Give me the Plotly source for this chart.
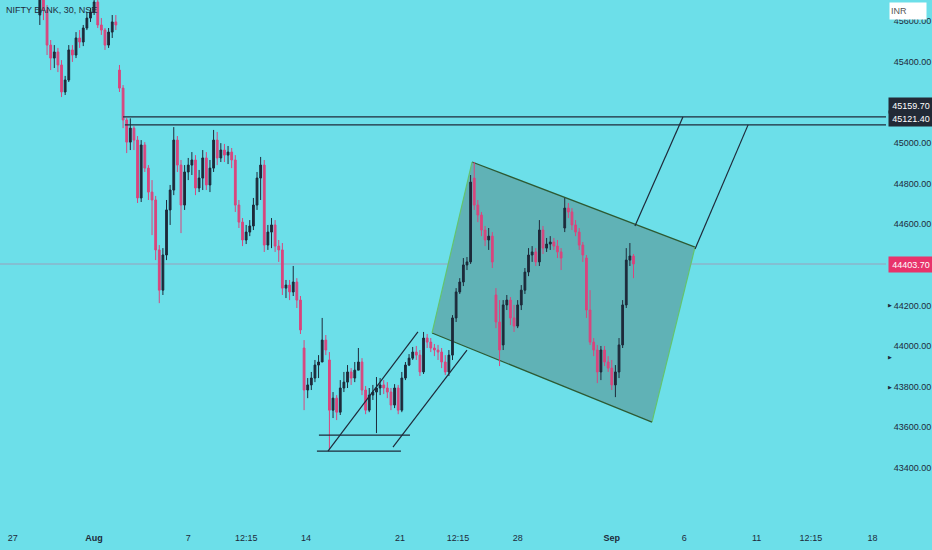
import plotly.graph_objects as go

# NIFTY BANK 30m candles, one entry per plotted candle
opens = [45630, 45729, 45655, 45482, 45418, 45448, 45384, 45251, 45310, 45458, 45433, 45517, 45497, 45566, 45615, 45645, 45694, 45581, 45556, 45482, 45546, 45596,
         45359, 45270, 45113, 45004, 45073, 45014, 44729, 44990, 44876, 44758, 44719, 44473, 44275, 44448, 44670, 44768, 45014, 44891, 44694, 44857, 44891, 44916,
         44778, 44827, 44926, 44793, 44876, 45014, 44926, 44965, 44940, 44955, 44916, 44694, 44610, 44522, 44561, 44591, 44694, 44827, 44891, 44497, 44561, 44596,
         44492, 44473, 44285, 44300, 44266, 44315, 44226, 43990, 43783, 43808, 43842, 43906, 43921, 44029, 43931, 43684, 43743, 43674, 43793, 43822, 43872, 43842,
         43881, 43921, 43783, 43684, 43758, 43773, 43793, 43808, 43793, 43773, 43709, 43793, 43684, 43842, 43906, 43940, 43970, 43955, 43872, 44039, 44019, 43990,
         43980, 43970, 43921, 43872, 43955, 44138, 44266, 44315, 44399, 44414, 44827, 44694, 44645, 44571, 44522, 44541, 44251, 44118, 44005, 44202, 44226, 44138,
         44098, 44202, 44275, 44364, 44448, 44463, 44414, 44571, 44482, 44502, 44512, 44492, 44463, 44581, 44679, 44660, 44596, 44561, 44497, 44433, 44177, 44019,
         43980, 43872, 43980, 43921, 43891, 43808, 43872, 44005, 44202, 44423, 44443]
highs = [45778, 45778, 45679, 45507, 45482, 45468, 45408, 45330, 45482, 45482, 45546, 45556, 45581, 45645, 45665, 45753, 45743, 45615, 45566, 45566, 45630, 45630,
         45384, 45285, 45123, 45121, 45083, 45034, 45014, 45004, 44891, 44817, 44739, 44497, 44482, 44719, 44793, 45078, 45034, 44916, 44891, 44926, 44955, 44940,
         44867, 44965, 44955, 44916, 45064, 45054, 44999, 44995, 44985, 44975, 44940, 44719, 44630, 44596, 44620, 44729, 44857, 44931, 44916, 44596, 44630, 44620,
         44522, 44507, 44325, 44325, 44394, 44334, 44246, 44029, 43842, 43872, 43931, 43955, 44138, 44054, 43970, 43773, 43758, 43832, 43872, 43906, 43891, 43921,
         43990, 43940, 43803, 43793, 43808, 43847, 43842, 43832, 43822, 43793, 43812, 43808, 43872, 43921, 43960, 43995, 44000, 43980, 44069, 44059, 44039, 44010,
         44005, 43990, 43955, 43980, 44152, 44285, 44334, 44433, 44438, 44842, 44906, 44719, 44660, 44591, 44581, 44561, 44285, 44226, 44226, 44251, 44241, 44202,
         44226, 44300, 44384, 44482, 44492, 44482, 44620, 44591, 44532, 44541, 44532, 44522, 44482, 44729, 44704, 44679, 44620, 44581, 44512, 44448, 44275, 44039,
         44005, 44000, 44000, 43950, 43931, 43906, 44039, 44226, 44482, 44507, 44453]
lows = [45581, 45605, 45433, 45359, 45369, 45349, 45226, 45236, 45300, 45399, 45418, 45468, 45477, 45556, 45596, 45630, 45566, 45532, 45458, 45468, 45517, 45556,
        45251, 45073, 44950, 44965, 44965, 44704, 44709, 44857, 44719, 44546, 44423, 44211, 44251, 44423, 44596, 44743, 44857, 44556, 44670, 44817, 44842, 44743,
        44758, 44768, 44768, 44758, 44857, 44891, 44906, 44906, 44896, 44876, 44660, 44581, 44492, 44502, 44541, 44571, 44670, 44719, 44463, 44473, 44482, 44463,
        44414, 44251, 44236, 44226, 44246, 44187, 44059, 43684, 43743, 43783, 43822, 43842, 43921, 43955, 43487, 43645, 43635, 43660, 43773, 43793, 43808, 43822,
        43881, 43758, 43664, 43674, 43734, 43571, 43758, 43763, 43743, 43684, 43694, 43664, 43674, 43832, 43901, 43931, 43931, 43852, 43862, 43990, 43970, 43950,
        43931, 43891, 43857, 43852, 43931, 44118, 44256, 44295, 44374, 44404, 44670, 44610, 44541, 44492, 44473, 44384, 44088, 43901, 43980, 44177, 44103, 44069,
        44088, 44177, 44256, 44344, 44414, 44394, 44394, 44453, 44463, 44473, 44473, 44433, 44374, 44561, 44630, 44571, 44541, 44473, 44414, 44138, 44005, 43950,
        43817, 43832, 43901, 43872, 43783, 43748, 43842, 43990, 44187, 44394, 44334]
closes = [45729, 45655, 45482, 45418, 45448, 45384, 45251, 45310, 45458, 45433, 45517, 45497, 45566, 45615, 45645, 45694, 45581, 45556, 45482, 45546, 45596, 45581,
          45270, 45113, 45004, 45073, 45014, 44729, 44990, 44876, 44758, 44719, 44473, 44275, 44448, 44670, 44768, 45014, 44891, 44694, 44857, 44891, 44916, 44778,
          44827, 44926, 44793, 44876, 45014, 44926, 44965, 44940, 44955, 44916, 44694, 44610, 44522, 44561, 44591, 44694, 44827, 44891, 44497, 44561, 44596, 44492,
          44473, 44285, 44300, 44266, 44315, 44226, 44079, 43783, 43808, 43842, 43906, 43921, 44029, 43980, 43684, 43743, 43674, 43793, 43822, 43872, 43842, 43881,
          43921, 43783, 43684, 43758, 43773, 43793, 43808, 43793, 43773, 43709, 43793, 43684, 43842, 43906, 43940, 43970, 43955, 43872, 44039, 44019, 43990, 43980,
          43970, 43921, 43872, 43955, 44138, 44266, 44315, 44399, 44414, 44807, 44694, 44645, 44571, 44522, 44541, 44414, 44118, 43980, 44202, 44226, 44138, 44098,
          44202, 44275, 44364, 44448, 44463, 44414, 44571, 44482, 44502, 44512, 44492, 44463, 44433, 44679, 44660, 44596, 44561, 44497, 44448, 44177, 44019, 43980,
          43872, 43980, 43921, 43891, 43808, 43872, 44005, 44202, 44423, 44443, 44403.7]

# time axis: bar number of 30-minute sessions (13 per day), candles shown every 2 bars
first_bar = 22
tick_bars = [7, 52, 104, 136, 169, 221, 253, 286, 338, 378, 418, 448, 482]
tick_text = ["27", "<b>Aug</b>", "7", "12:15", "14", "21", "12:15", "28", "<b>Sep</b>", "6", "11", "12:15", "18"]
price_ticks = [43400, 43600, 43800, 44000, 44200, 44600, 44800, 45000, 45400, 45600]

last_price = 44403.70
resistance = [45128, 45089]          # where the two drawn lines sit
resistance_labels = ["45159.70", "45121.40"]

# drawings (bar, price)
base_lines = [((176.2, 43561), (226.5, 43561)), ((175.1, 43482), (221.5, 43482))]
rising_channel = [((181.2, 43482), (230.9, 44069)), ((217.1, 43502), (258.0, 43980))]
box = [(260.8, 44906), (384.0, 44487), (360.2, 43625), (238.7, 44064)]
targets = [((350.8, 44591), (377.3, 45128)), ((384.0, 44478), (413.3, 45089))]

BG = "#6cdfe9"
DARK = "#1e2a3a"
PINK = "#d9457d"
FONT = "Liberation Sans Narrow, Liberation Sans, sans-serif"

bars = list(range(first_bar, first_bar + 2 * len(closes), 2))

fig = go.Figure()
fig.add_trace(go.Candlestick(
    x=bars, open=opens, high=highs, low=lows, close=closes,
    increasing=dict(line=dict(color=DARK, width=1), fillcolor=DARK),
    decreasing=dict(line=dict(color=PINK, width=1), fillcolor=PINK),
    whiskerwidth=0, hoverinfo="none", showlegend=False,
))

shapes = []
# shaded box
path = "M " + " L ".join(f"{b},{p}" for b, p in box) + " Z"
shapes.append(dict(type="path", path=path, xref="x", yref="y", fillcolor="rgb(96,178,182)",
                   line=dict(width=0), layer="below"))
for i in range(4):
    (b0, p0), (b1, p1) = box[i], box[(i + 1) % 4]
    col = "#2d5a33" if i % 2 == 0 else "#63c46e"
    shapes.append(dict(type="line", x0=b0, y0=p0, x1=b1, y1=p1, xref="x", yref="y",
                       line=dict(color=col, width=1.2), layer="below"))

# resistance lines running into the price scale
for start, lvl in zip([68, 69], resistance):
    shapes.append(dict(type="line", x0=start, x1=490, xref="x", yref="y", y0=lvl, y1=lvl,
                       line=dict(color=DARK, width=1.2)))

for (a, b) in base_lines + rising_channel + targets:
    shapes.append(dict(type="line", x0=a[0], y0=a[1], x1=b[0], y1=b[1], xref="x", yref="y",
                       line=dict(color=DARK, width=1.2)))

# last price line
shapes.append(dict(type="line", xref="paper", x0=0, x1=1, yref="y", y0=last_price, y1=last_price,
                   line=dict(color="rgba(214,80,130,0.45)", width=1), layer="below"))

annotations = [
    dict(text="NIFTY BANK, 30, NSE", xref="paper", yref="paper", x=0.004, y=1 - 10 / 522,
         xanchor="left", yanchor="middle", showarrow=False,
         font=dict(family=FONT, size=9, color=DARK)),
    dict(text="INR", xref="paper", yref="paper", x=1, xshift=3, y=1 - 11 / 522,
         xanchor="left", yanchor="middle", showarrow=False, bgcolor="white", width=34, height=14,
         align="left", font=dict(family=FONT, size=9, color="#555555")),
    dict(text=f"{last_price:.2f}", xref="paper", yref="y", x=1, xshift=2, y=last_price,
         xanchor="left", yanchor="middle", showarrow=False, bgcolor="#e8336b", width=42, height=13,
         font=dict(family=FONT, size=9, color="white")),
]
for txt, lvl in zip(resistance_labels, [45182, 45118]):
    annotations.append(dict(text=txt, xref="paper", yref="y", x=1, xshift=2, y=lvl,
                            xanchor="left", yanchor="middle", showarrow=False, bgcolor="#222a36",
                            width=42, height=13, font=dict(family=FONT, size=9, color="white")))
for lvl in [44202, 43946, 43798]:
    annotations.append(dict(text="▶", xref="paper", yref="y", x=1, xshift=0, y=lvl,
                            xanchor="left", yanchor="middle", showarrow=False,
                            font=dict(size=5, color=DARK)))

fig.update_layout(
    width=932, height=550,
    margin=dict(l=0, r=46, t=0, b=28),
    paper_bgcolor=BG, plot_bgcolor=BG,
    showlegend=False,
    shapes=shapes,
    annotations=annotations,
    xaxis=dict(range=[0, 489.5], tickvals=tick_bars, ticktext=tick_text, showgrid=False,
               zeroline=False, showline=False, rangeslider=dict(visible=False),
               ticks="outside", ticklen=7, tickcolor=BG,
               tickfont=dict(family=FONT, size=9, color=DARK)),
    yaxis=dict(range=[43133, 45704], side="right", tickvals=price_ticks, tickformat=".2f",
               showgrid=False, zeroline=False, showline=False,
               ticks="outside", ticklen=5, tickcolor=BG,
               tickfont=dict(family=FONT, size=9, color=DARK)),
)

fig.write_html("out.html", config={"displayModeBar": False},
               post_script="document.body.style.margin='0';")
